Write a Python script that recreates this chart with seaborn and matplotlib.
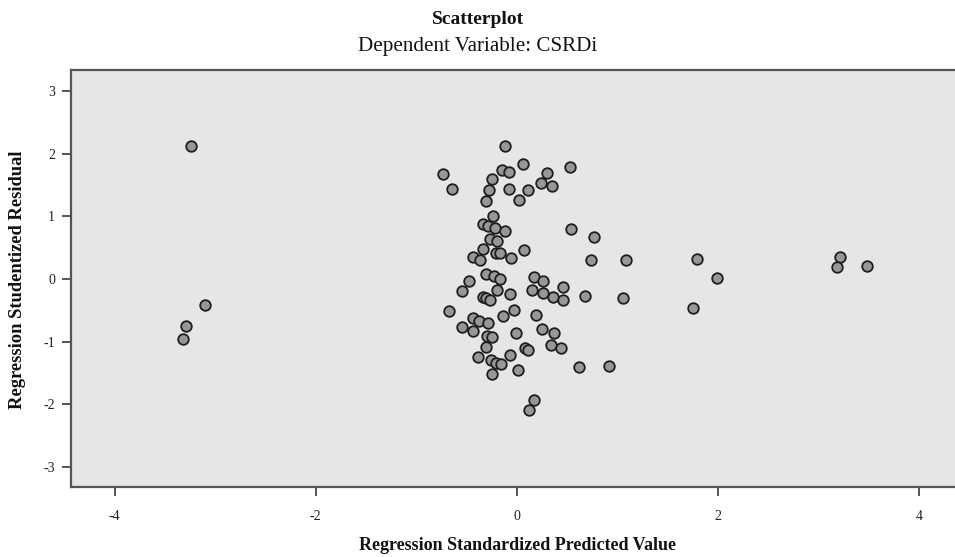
import matplotlib
matplotlib.use("Agg")
import matplotlib.pyplot as plt
import pandas as pd
import seaborn as sns

# Regression Standardized Predicted Value (x) and Regression Studentized Residual (y)
pred = [
    -3.244, -3.105, -3.290, -3.317,
    -0.122, -0.733, -0.649, -0.146, -0.080, 0.063, 0.527, 0.295, -0.246, -0.275,
    -0.077, 0.106, 0.239, 0.345, -0.311, 0.020, -0.236, -0.341, -0.291, -0.216,
    -0.119, 0.537, 0.765, -0.268, -0.202, -0.335, 0.067, -0.440, -0.368, -0.209,
    -0.169, -0.063, 0.733,
    -0.474, -0.542, -0.308, -0.229, -0.169, 0.169, 0.258, 0.454, 0.679, 1.054,
    0.149, 0.255, 0.358, 0.457, -0.202, -0.073, -0.335, -0.308, -0.271, -0.673,
    -0.434, -0.381, -0.286, -0.134, -0.027, 0.189, -0.547, -0.439, -0.293, -0.247,
    -0.013, 0.251, 0.371, -0.310, 0.077, 0.107, 0.338, 0.434, -0.390, -0.263,
    -0.209, -0.159, -0.068, -0.249, 0.007, 0.619, 0.915, 0.169, 0.119,
    1.087, 1.786, 1.988, 1.750, 3.214, 3.184, 3.476,
]
resid = [
    2.125, -0.415, -0.746, -0.958,
    2.125, 1.677, 1.433, 1.741, 1.709, 1.832, 1.794, 1.698, 1.602, 1.422,
    1.443, 1.417, 1.538, 1.481, 1.251, 1.262, 1.011, 0.874, 0.847, 0.810,
    0.767, 0.804, 0.676, 0.639, 0.602, 0.484, 0.463, 0.347, 0.304, 0.420,
    0.411, 0.340, 0.304,
    -0.027, -0.187, 0.075, 0.048, 0.005, 0.027, -0.032, -0.133, -0.272, -0.304,
    -0.176, -0.228, -0.283, -0.340, -0.176, -0.243, -0.292, -0.308, -0.335, -0.506,
    -0.628, -0.666, -0.708, -0.596, -0.500, -0.575, -0.767, -0.826, -0.906, -0.927,
    -0.858, -0.804, -0.867, -1.091, -1.097, -1.134, -1.054, -1.107, -1.241, -1.294,
    -1.337, -1.363, -1.219, -1.513, -1.449, -1.401, -1.395, -1.933, -2.097,
    0.308, 0.324, 0.011, -0.463, 0.356, 0.192, 0.208,
]

x_ticks = [-4, -2, 0, 2, 4]
y_ticks = [-3, -2, -1, 0, 1, 2, 3]

title = "Scatterplot"
subtitle = "Dependent Variable: CSRDi"
x_label = "Regression Standardized Predicted Value"
y_label = "Regression Studentized Residual"

df = pd.DataFrame({"pred": pred, "resid": resid})

sns.set_theme(style="white")
plt.rcParams["font.family"] = ["Liberation Serif", "DejaVu Serif"]

W, H = 955, 557
fig = plt.figure(figsize=(W / 100, H / 100), dpi=100)
fig.patch.set_facecolor("white")
ax = fig.add_axes([71 / W, 1 - 487 / H, (W - 71) / W, (487 - 70) / H])
ax.set_facecolor("#e6e6e6")

sns.scatterplot(data=df, x="pred", y="resid", ax=ax, s=58,
                color="#979797", edgecolor="#1e1e1e", linewidth=1.3,
                zorder=3, legend=False)

ax.set_xlim(-4.433, 4.354)
ax.set_ylim(-3.323, 3.339)
ax.set_xticks(x_ticks)
ax.set_yticks(y_ticks)
ax.set_xticklabels([str(t) for t in x_ticks])
ax.set_yticklabels([str(t) for t in y_ticks])
ax.set_xlabel("")
ax.set_ylabel("")

for side in ["left", "bottom", "top"]:
    ax.spines[side].set_visible(True)
    ax.spines[side].set_color("#555555")
    ax.spines[side].set_linewidth(1.6)
ax.spines["right"].set_visible(False)

ax.tick_params(axis="both", which="major", direction="out", length=6.5,
               width=1.4, color="#555555", labelsize=10, labelcolor="#222222",
               left=True, bottom=True, pad=5)
ax.tick_params(axis="x", pad=10)

fig.text(0.5, 1 - 19 / H, title, ha="center", va="center",
         fontsize=14, fontweight="bold", color="#111111")
fig.text(0.5, 1 - 46 / H, subtitle, ha="center", va="center",
         fontsize=15.2, color="#111111")
fig.text(517 / W, 1 - 546 / H, x_label, ha="center", va="center",
         fontsize=13, fontweight="bold", color="#111111")
fig.text(18 / W, 1 - 280 / H, y_label, ha="center", va="center",
         rotation=90, fontsize=13.3, fontweight="bold", color="#111111")

fig.savefig("out.png", dpi=100)
